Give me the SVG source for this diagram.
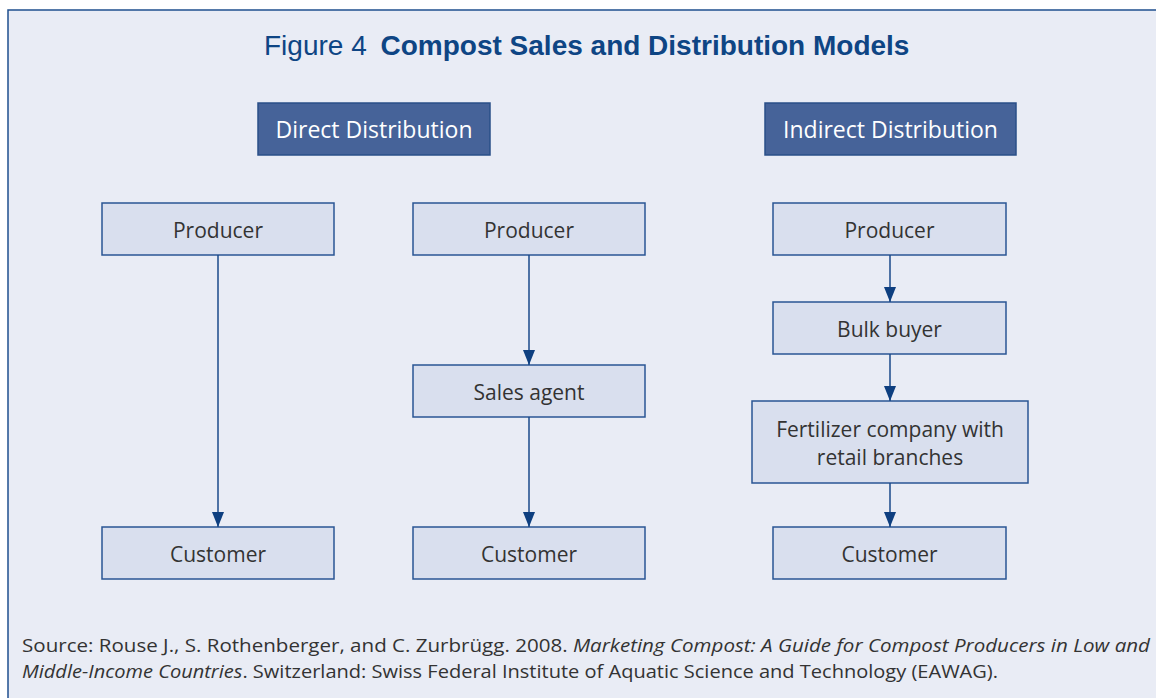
<svg xmlns="http://www.w3.org/2000/svg" width="1156" height="698" viewBox="0 0 1156 698">
<defs>
<style>
.bg{fill:#e9ecf5;stroke:#1f4f8f;stroke-width:1.5}
.hdr{fill:#466399;stroke:#2a4f88;stroke-width:1.5}
.box{fill:#d9dfee;stroke:#2a5594;stroke-width:1.5}
.ht{font-family:"Open Sans","Noto Sans",sans-serif;font-size:23px;fill:#ffffff;text-anchor:middle}
.nt{font-family:"Open Sans","Noto Sans",sans-serif;font-size:21px;fill:#333333;text-anchor:middle}
.title{font-family:"Liberation Sans",Arial,sans-serif;font-size:28px;fill:#0e4584}
.src{font-family:"Open Sans","Noto Sans",sans-serif;font-size:18px;fill:#333333}
.conn{stroke:#1a4a8a;stroke-width:1.5;fill:none;marker-end:url(#ah)}
</style>
<marker id="ah" markerWidth="15" markerHeight="12" refX="15" refY="6" orient="auto" markerUnits="userSpaceOnUse" viewBox="0 0 15 12">
<path d="M0,0 L15,6 L0,12 Z" fill="#0e3f80"/>
</marker>
</defs>
<rect class="bg" x="8" y="10" width="1160" height="700"/>
<text class="title" x="264" y="55"><tspan>Figure 4 </tspan><tspan font-weight="bold" dx="6">Compost Sales and Distribution Models</tspan></text>

<g id="hdr-direct"><rect class="hdr" x="258" y="103" width="232" height="52"/><text class="ht" x="374" y="138">Direct Distribution</text></g>
<g id="hdr-indirect"><rect class="hdr" x="765" y="103" width="251" height="52"/><text class="ht" x="890.5" y="138">Indirect Distribution</text></g>

<g id="producer1"><rect class="box" x="102" y="203" width="232" height="52"/><text class="nt" x="218" y="238">Producer</text></g>
<g id="customer1"><rect class="box" x="102" y="527" width="232" height="52"/><text class="nt" x="218" y="562">Customer</text></g>

<g id="producer2"><rect class="box" x="413" y="203" width="232" height="52"/><text class="nt" x="529" y="238">Producer</text></g>
<g id="salesagent"><rect class="box" x="413" y="365" width="232" height="52"/><text class="nt" x="529" y="400">Sales agent</text></g>
<g id="customer2"><rect class="box" x="413" y="527" width="232" height="52"/><text class="nt" x="529" y="562">Customer</text></g>

<g id="producer3"><rect class="box" x="773" y="203" width="233" height="52"/><text class="nt" x="889.5" y="238">Producer</text></g>
<g id="bulkbuyer"><rect class="box" x="773" y="302" width="233" height="52"/><text class="nt" x="889.5" y="337">Bulk buyer</text></g>
<g id="fertilizer"><rect class="box" x="752" y="401" width="276" height="82"/><text class="nt" x="890" y="437">Fertilizer company with</text><text class="nt" x="890" y="465">retail branches</text></g>
<g id="customer3"><rect class="box" x="773" y="527" width="233" height="52"/><text class="nt" x="889.5" y="562">Customer</text></g>

<g id="connectors">
<line class="conn" x1="218" y1="255" x2="218" y2="527"/>
<line class="conn" x1="529" y1="255" x2="529" y2="365"/>
<line class="conn" x1="529" y1="417" x2="529" y2="527"/>
<line class="conn" x1="890" y1="255" x2="890" y2="302"/>
<line class="conn" x1="890" y1="354" x2="890" y2="401"/>
<line class="conn" x1="890" y1="483" x2="890" y2="527"/>
</g>

<g id="source">
<text class="src" x="22" y="652" textLength="1128" lengthAdjust="spacingAndGlyphs">Source: Rouse J., S. Rothenberger, and C. Zurbrügg. 2008. <tspan font-style="italic">Marketing Compost: A Guide for Compost Producers in Low and</tspan></text>
<text class="src" x="22" y="678" textLength="976" lengthAdjust="spacingAndGlyphs"><tspan font-style="italic">Middle-Income Countries</tspan>. Switzerland: Swiss Federal Institute of Aquatic Science and Technology (EAWAG).</text>
</g>
</svg>
